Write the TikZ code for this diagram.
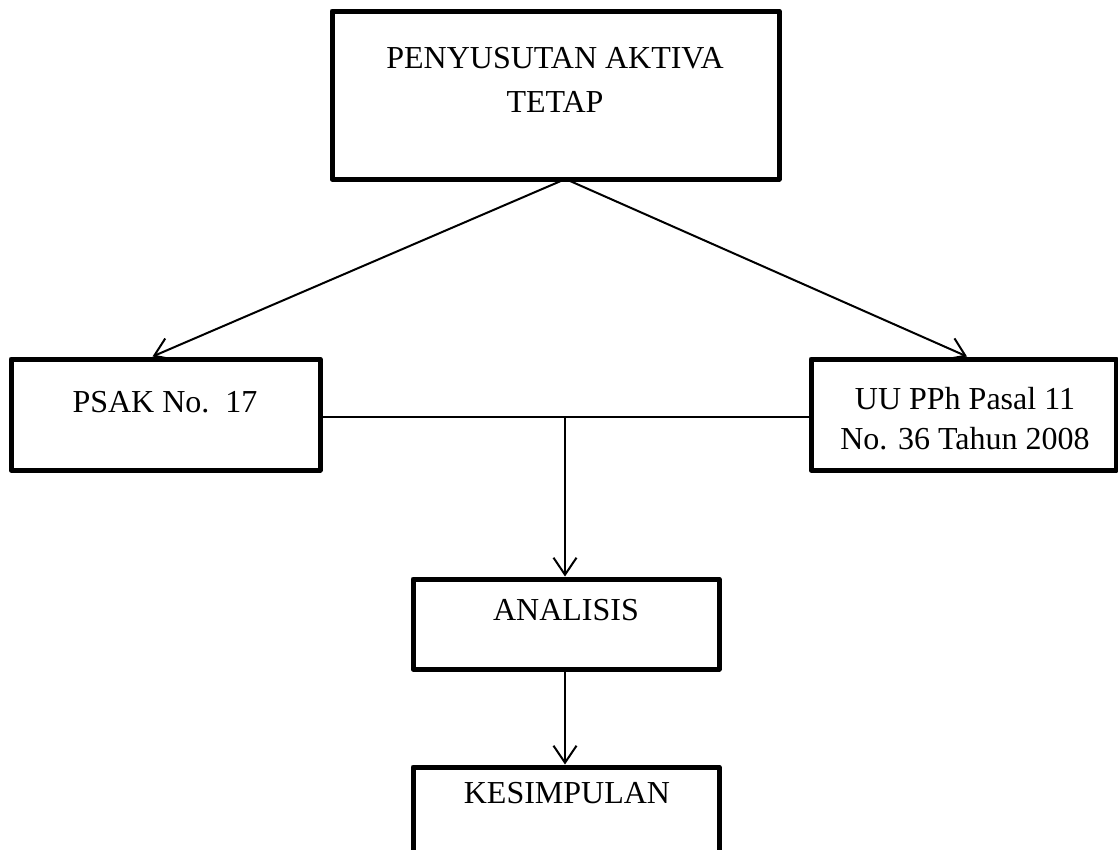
\documentclass[tikz,border=0pt]{standalone}
\usepackage{fontspec}
\setmainfont{Liberation Serif}
\usetikzlibrary{arrows.meta,calc}
\tikzset{
  boxstyle/.style={draw=black, line width=5pt, rectangle, inner sep=0pt, line join=round},
  txt/.style={anchor=base, inner sep=0pt, font=\fontsize{32}{37}\selectfont},
  conn/.style={draw=black, line width=2pt},
  arr/.style={conn, -{Straight Barb[length=17pt,width=23pt,line width=2pt]}},
}
\begin{document}
\begin{tikzpicture}[x=1pt,y=-1pt]
\useasboundingbox (0,0) rectangle (1118,849);
\clip (0,0) rectangle (1118,849);
% boxes
\node[boxstyle, minimum width=447pt, minimum height=168pt] (top) at (555.5,95) {};
\node[boxstyle, minimum width=309pt, minimum height=111pt] (psak) at (165.5,414.5) {};
\node[boxstyle, minimum width=305pt, minimum height=111pt] (uu) at (963.5,414.5) {};
\node[boxstyle, minimum width=306pt, minimum height=90pt] (analisis) at (566,624) {};
\node[boxstyle, minimum width=306pt, minimum height=133pt] (kesimpulan) at (566,833.5) {};
% texts
\node[txt] (t1) at (555,68) {PENYUSUTAN AKTIVA};
\node[txt] (t2) at (555,112) {TETAP};
\node[txt] (t3) at (165,412) {PSAK No.\ \ 17};
\node[txt] (t4) at (965,409) {UU PPh Pasal 11};
\node[txt] (t5) at (965,449) {No. 36 Tahun 2008};
\node[txt] (t6) at (566,620) {ANALISIS};
\node[txt] (t7) at (567,803) {KESIMPULAN};
% connectors
\coordinate (apex) at ([xshift=10pt,yshift=2.5pt]top.south);
\coordinate (j) at (565,417);
\draw[arr] (apex) -- ([xshift=-13pt]psak.north);
\draw[arr] (apex) -- ([xshift=3.5pt]uu.north);
\draw[conn] ([yshift=-2.5pt,xshift=-2.5pt]psak.east) -- ([yshift=-2.5pt,xshift=2.5pt]uu.west);
\draw[arr] (j) -- ([xshift=-1pt]analisis.north);
\draw[arr] ([xshift=-1pt,yshift=2.5pt]analisis.south) -- ([xshift=-1pt]kesimpulan.north);
\end{tikzpicture}
\end{document}
